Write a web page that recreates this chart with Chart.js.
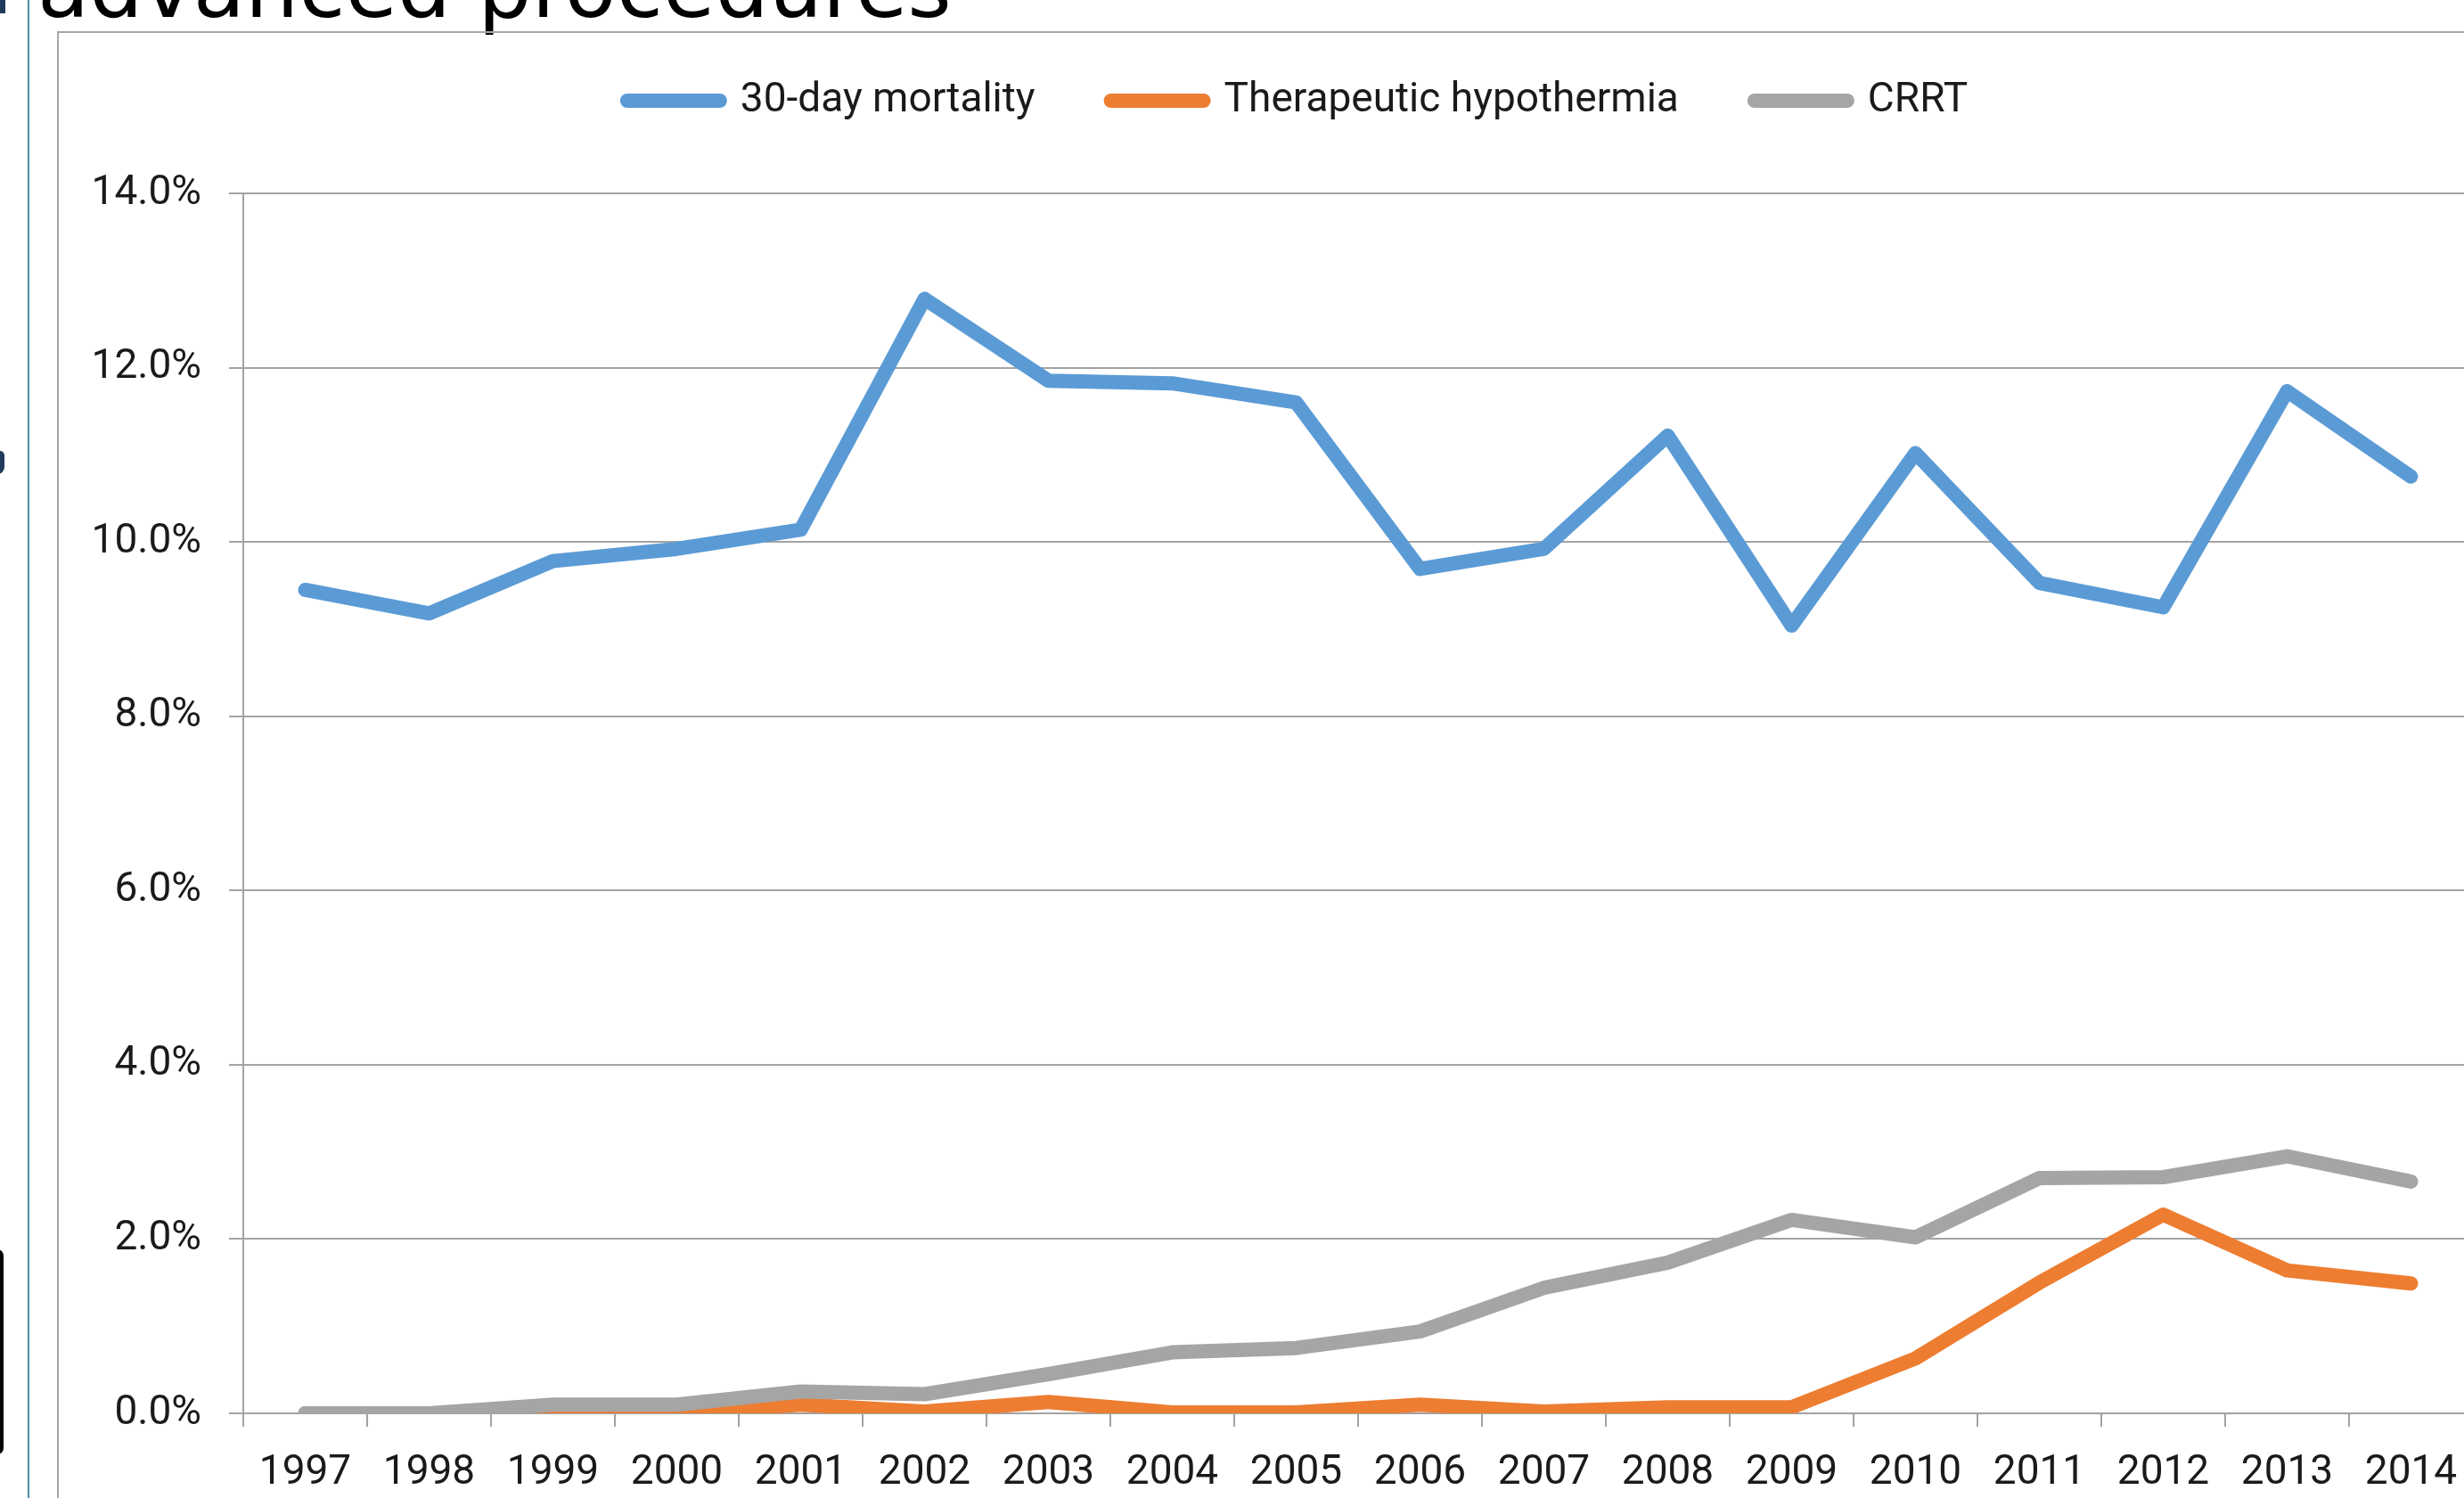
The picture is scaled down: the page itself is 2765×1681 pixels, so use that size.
<!DOCTYPE html>
<html>
<head>
<meta charset="utf-8">
<script src="https://cdn.jsdelivr.net/npm/chart.js@4.4.1/dist/chart.umd.min.js"></script>
<style>
  html, body { margin: 0; padding: 0; background: #fff; overflow: hidden; width: 2765px; height: 1681px; }
  #title { position: absolute; left: 42px; top: -61px; font-family: "DejaVu Sans"; font-size: 95px; line-height: 1; color: #000; white-space: nowrap; }
  #mark1 { position: absolute; left: 0; top: 0; width: 6px; height: 15px; background: #1f3a5a; }
  #mark2 { position: absolute; left: -4px; top: 506px; width: 9px; height: 26px; background: #1f3a5a; border-radius: 0 5px 8px 0; }
  #mark3 { position: absolute; left: -10px; top: 1402px; width: 14px; height: 230px; background: #000; border-radius: 7px; }
  #teal { position: absolute; left: 31px; top: 0; width: 2px; height: 1681px; background: #4a8fa3; }
  #frame { position: absolute; left: 64px; top: 35px; width: 3000px; height: 2000px; border-left: 2px solid #a6a6a6; border-top: 2px solid #a6a6a6; }
  #wrap { position: absolute; left: 66px; top: 0; width: 2780px; height: 1681px; }
</style>
</head>
<body>
<div id="title">advanced procedures</div>
<div id="mark1"></div>
<div id="mark2"></div>
<div id="mark3"></div>
<div id="teal"></div>
<div id="frame"></div>
<div id="wrap"><canvas id="lineChart"></canvas></div>
<script>
var years = ['1997', '1998', '1999', '2000', '2001', '2002', '2003', '2004', '2005',
             '2006', '2007', '2008', '2009', '2010', '2011', '2012', '2013', '2014'];

// values in percent
var mortality   = [9.45, 9.18, 9.78, 9.92, 10.14, 12.79, 11.85, 11.82, 11.6,
                   9.69, 9.92, 11.22, 9.04, 11.02, 9.53, 9.25, 11.73, 10.75];
var hypothermia = [0, 0, 0, 0, 0.1, 0.02, 0.13, 0.01, 0.01,
                   0.1, 0.02, 0.07, 0.07, 0.63, 1.5, 2.28, 1.64, 1.49];
var crrt        = [0, 0, 0.1, 0.1, 0.25, 0.22, 0.45, 0.7, 0.75,
                   0.94, 1.44, 1.73, 2.22, 2.02, 2.7, 2.71, 2.95, 2.66];

var seriesNames  = ['30-day mortality', 'Therapeutic hypothermia', 'CRRT'];
var seriesColors = ['#5b9bd5', '#ed7d31', '#a5a5a5'];

var textColor = '#1a1a1a'
var axisColor = '#a3a3a3'
var labelFont = { family: 'Roboto', size: 46 }

function makeSet(i, values) {
    return {
        label: seriesNames[i],
        data: values,
        borderColor: seriesColors[i],
        backgroundColor: seriesColors[i],
        borderWidth: 16,
        borderCapStyle: 'round',
        borderJoinStyle: 'round',
        pointRadius: 0,
        pointHoverRadius: 0,
        tension: 0,
        clip: 0,
        order: 3 - i   // later series drawn on top, like the original
    }
}

// legend needs extra room under it before the plot starts
var legendSpacer = {
    id: 'legendSpacer',
    beforeLayout: function(chart) {
        var lg = chart.legend
        if (lg && !lg._spaced) {
            var fit = lg.fit
            lg.fit = function() {
                fit.call(this)
                this.height = 212
            }
            lg._spaced = true
        }
    }
}

var ctx = document.getElementById('lineChart').getContext('2d');
var lineChart = new Chart(ctx, {
    type: 'line',
    data: {
        labels: years,
        datasets: [
            makeSet(0, mortality),
            makeSet(1, hypothermia),
            makeSet(2, crrt)
        ]
    },
    plugins: [legendSpacer],
    options: {
        responsive: true,
        maintainAspectRatio: false,
        animation: false,
        devicePixelRatio: 1,
        layout: {
            padding: { top: 5, left: 0, right: 0, bottom: 0 }
        },
        scales: {
            x: {
                offset: true,
                grid: {
                    offset: true,
                    drawOnChartArea: false,
                    drawTicks: true,
                    tickLength: 15,
                    color: axisColor,
                    lineWidth: 2
                },
                border: { color: axisColor, width: 2 },
                ticks: {
                    padding: 25,
                    maxRotation: 0,
                    autoSkip: false,
                    color: textColor,
                    font: labelFont
                },
                afterFit: function(s) { s.height = 95 }
            },
            y: {
                min: 0,
                max: 14,
                ticks: {
                    stepSize: 2,
                    padding: 31,
                    color: textColor,
                    font: labelFont,
                    callback: function(v) { return v.toFixed(1) + '%' }
                },
                grid: {
                    color: axisColor,
                    lineWidth: 2,
                    drawTicks: true,
                    tickLength: 16
                },
                border: { color: axisColor, width: 2 },
                afterFit: function(s) { s.width = 207 }
            },
            // empty space on the right, so the legend centres like the original
            yRight: {
                type: 'linear',
                position: 'right',
                display: true,
                grid: { display: false },
                border: { display: false },
                ticks: { display: false },
                afterFit: function(s) { s.width = 71 }
            }
        },
        plugins: {
            tooltip: { enabled: false },
            legend: {
                display: true,
                position: 'top',
                labels: {
                    usePointStyle: true,
                    pointStyle: 'line',
                    pointStyleWidth: 104,
                    padding: 85,
                    color: textColor,
                    font: labelFont,
                    sort: function(a, b) { return a.datasetIndex - b.datasetIndex },
                    generateLabels: function(chart) {
                        var items = Chart.defaults.plugins.legend.labels.generateLabels(chart)
                        items.forEach(function(it) {
                            it.strokeStyle = seriesColors[it.datasetIndex]
                            it.fillStyle = seriesColors[it.datasetIndex]
                            it.lineWidth = 16
                            it.lineCap = 'round'
                            it.pointStyle = 'line'
                        })
                        return items
                    }
                }
            }
        }
    }
});
</script>
</body>
</html>
